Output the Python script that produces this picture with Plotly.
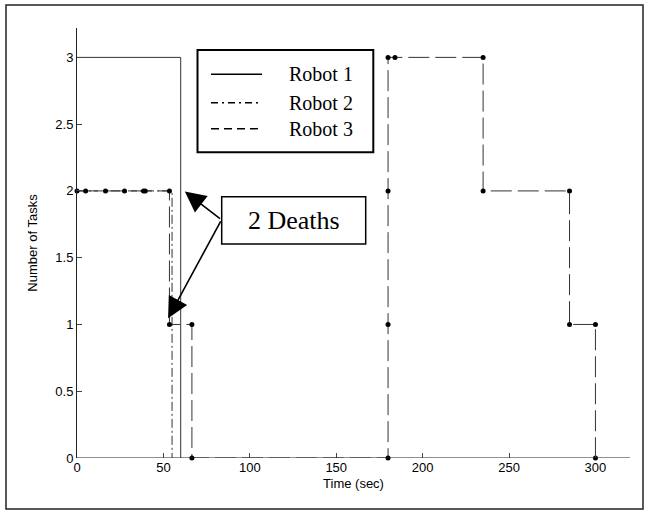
import plotly.graph_objects as go

# Task counts per robot over time (stair-step traces)
robot1_t = [0, 60, 60]
robot1_n = [3, 3, 0]

robot2_t = [0, 55, 55]
robot2_n = [2, 2, 0]

robot3_t = [0, 5, 16.5, 27.5, 38.5, 39.5, 53.5, 53.5, 66.5, 66.5,
            180, 180, 180, 180, 184, 235, 235, 285, 285, 300, 300]
robot3_n = [2, 2, 2, 2, 2, 2, 2, 1, 1, 0,
            0, 1, 2, 3, 3, 3, 2, 2, 1, 1, 0]

x_ticks = [0, 50, 100, 150, 200, 250, 300]
y_ticks = [0, 0.5, 1, 1.5, 2, 2.5, 3]
legend_names = ["Robot 1", "Robot 2", "Robot 3"]
x_max, y_max = 320, 3.22

W, H = 651, 517
L, R, T, B = 77, 630, 28, 458
PW, PH = R - L, B - T


def px(x):
    return (x - L) / PW


def py(y):
    return (B - y) / PH


LINE = "#333333"

fig = go.Figure()
fig.add_trace(go.Scatter(x=robot1_t, y=robot1_n, mode="lines",
                         line=dict(color=LINE, width=1), name=legend_names[0]))
fig.add_trace(go.Scatter(x=robot2_t, y=robot2_n, mode="lines",
                         line=dict(color=LINE, width=1, dash="9px,3px,2px,3px"),
                         name=legend_names[1]))
fig.add_trace(go.Scatter(x=robot3_t, y=robot3_n, mode="lines+markers",
                         line=dict(color=LINE, width=1, dash="21px,6px"),
                         marker=dict(color="black", size=5), cliponaxis=False,
                         name=legend_names[2]))

shapes = []
annotations = []

# bottom axis line drawn above the traces so the zero-level run is hidden under it
shapes.append(dict(type="line", xref="x", yref="y", x0=0, x1=x_max, y0=0, y1=0,
                   layer="above", line=dict(color="#222", width=1.2)))

# outer frame around the whole figure
shapes.append(dict(type="rect", xref="paper", yref="paper",
                   x0=px(6), x1=px(643), y0=py(5), y1=py(509),
                   line=dict(color="#222", width=1.5)))

# legend box
shapes.append(dict(type="rect", xref="paper", yref="paper",
                   x0=px(197.5), x1=px(373.3), y0=py(50), y1=py(152.3),
                   line=dict(color="black", width=2), fillcolor="white"))
legend_rows = [74.3, 102.7, 128.7]
legend_dash = ["solid", "7px,4px,2px,4px", "8px,5px"]
for name, yrow, dash in zip(legend_names, legend_rows, legend_dash):
    shapes.append(dict(type="line", xref="paper", yref="paper",
                       x0=px(211), x1=px(262), y0=py(yrow), y1=py(yrow),
                       line=dict(color="black", width=1.5, dash=dash)))
    annotations.append(dict(xref="paper", yref="paper", x=px(287), y=py(yrow),
                            xanchor="left", yanchor="middle", showarrow=False,
                            text=name,
                            font=dict(family="Liberation Serif", size=20, color="black")))

# "2 Deaths" callout box
shapes.append(dict(type="rect", xref="paper", yref="paper",
                   x0=px(221.7), x1=px(365.7), y0=py(196.7), y1=py(244),
                   line=dict(color="black", width=1.5), fillcolor="white"))
annotations.append(dict(xref="paper", yref="paper", x=px(293.7), y=py(220.5),
                        xanchor="center", yanchor="middle", showarrow=False,
                        text="2 Deaths",
                        font=dict(family="Liberation Serif", size=26, color="black")))

# arrows from the callout to the two drop-offs
tail_x, tail_y = 83.6, 1.783
for hx, hy in [(62.4, 1.995), (52.7, 1.046)]:
    annotations.append(dict(xref="x", yref="y", x=hx, y=hy,
                            axref="x", ayref="y", ax=tail_x, ay=tail_y,
                            text="", showarrow=True, arrowhead=2,
                            arrowsize=2.6, arrowwidth=1.6, arrowcolor="black",
                            standoff=0, startstandoff=0))

axis_font = dict(family="Liberation Sans", size=13, color="black")

fig.update_layout(
    width=W, height=H,
    margin=dict(l=L, r=W - R, t=T, b=H - B, pad=0),
    paper_bgcolor="white", plot_bgcolor="white",
    showlegend=False,
    shapes=shapes, annotations=annotations,
    xaxis=dict(range=[0, x_max], tickvals=x_ticks, ticktext=[str(v) for v in x_ticks],
               ticks="inside", ticklen=5, tickcolor="#444",
               showline=False,
               showgrid=False, zeroline=False, tickfont=axis_font,
               title=dict(text="Time (sec)", font=axis_font, standoff=4)),
    yaxis=dict(range=[0, y_max], tickvals=y_ticks, ticktext=[f"{v:g}" for v in y_ticks],
               ticks="inside", ticklen=5, tickcolor="#444",
               showline=True, linecolor="#222", linewidth=1, layer="above traces",
               showgrid=False, zeroline=False, tickfont=axis_font,
               title=dict(text="Number of Tasks", font=axis_font, standoff=14)),
)

fig.write_html("out.html")
